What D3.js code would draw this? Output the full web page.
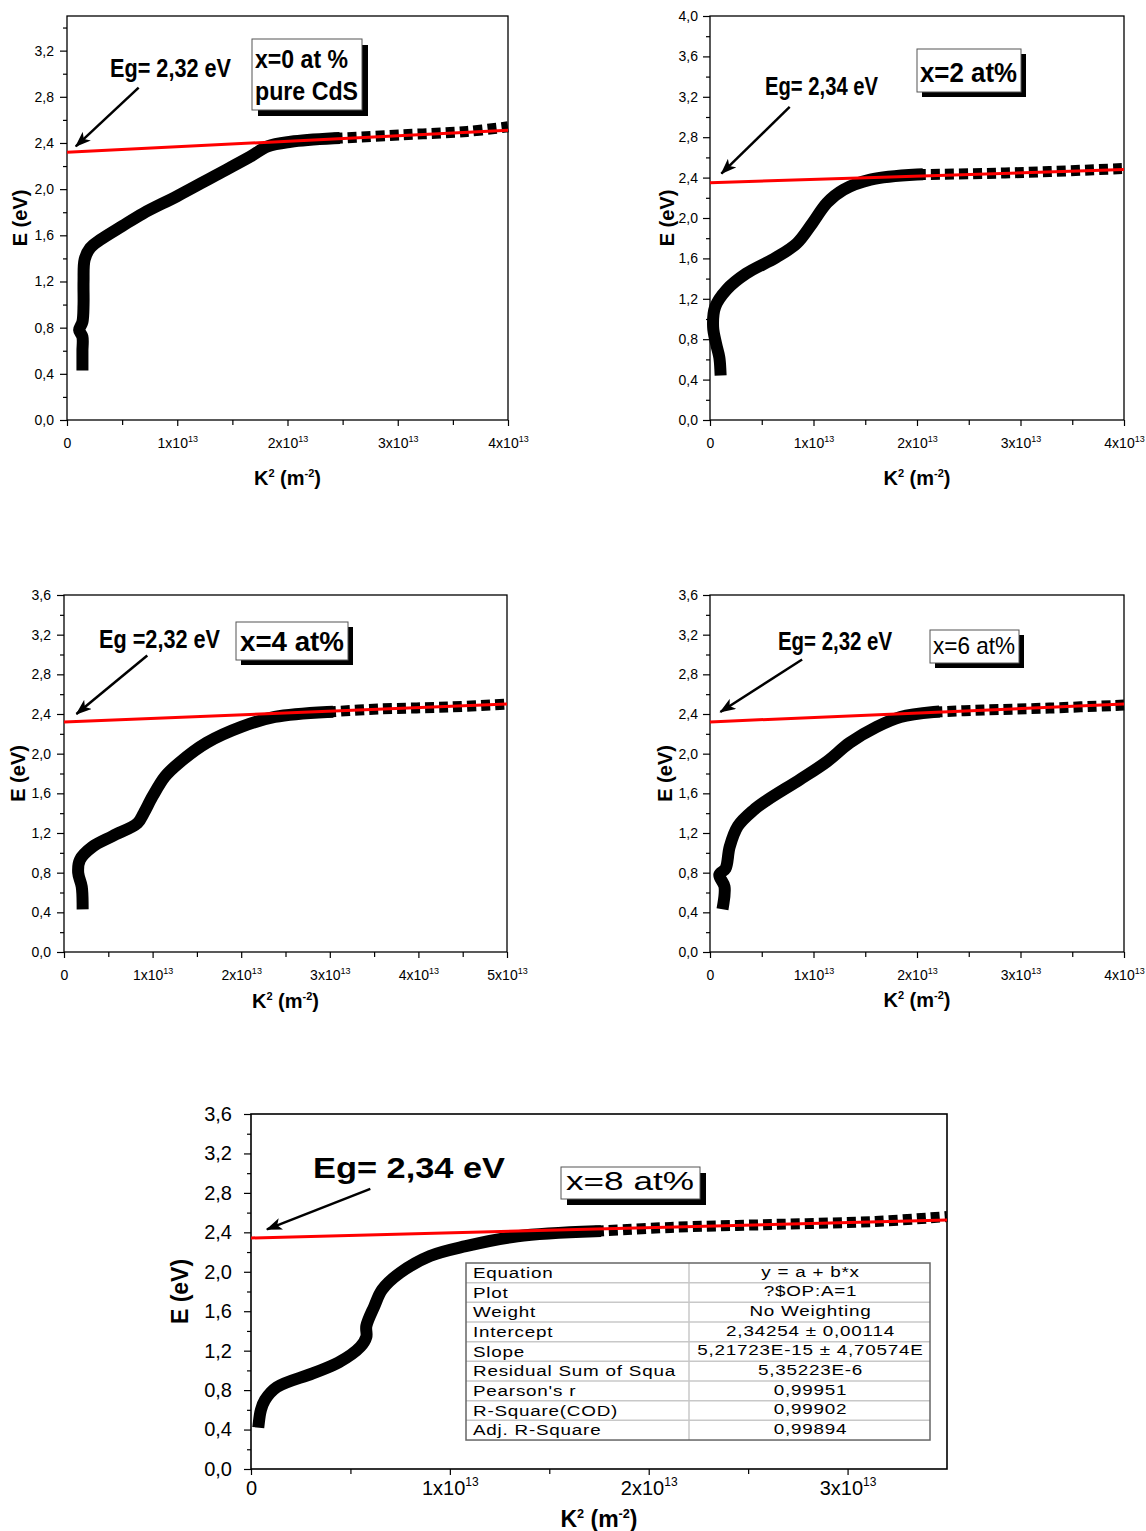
<!DOCTYPE html>
<html>
<head>
<meta charset="utf-8">
<script src="https://cdn.jsdelivr.net/npm/d3@7"></script>
<style>
  body { margin: 0; background: #fff; }
  svg { display: block; }
  text { font-family: "Liberation Sans", Arial, sans-serif; fill: #000; }
</style>
</head>
<body>
<svg id="chart" width="1146" height="1531"></svg>
<script>
// K² in units of 1e13 m^-2, E in eV
const k2_x0 = [0.14, 0.14, 0.14, 0.11, 0.14, 0.15, 0.15, 0.16, 0.21, 0.30, 0.50, 0.69, 1.00, 1.33, 1.66, 1.82, 2.03, 2.42, 3.03, 3.63, 4.00]
const e_x0  = [0.48, 0.60, 0.72, 0.78, 0.85, 1.00, 1.20, 1.39, 1.49, 1.56, 1.68, 1.79, 1.94, 2.11, 2.28, 2.37, 2.41, 2.44, 2.47, 2.50, 2.54]

const k2_x2 = [0.10, 0.09, 0.06, 0.03, 0.05, 0.16, 0.35, 0.64, 0.84, 0.99, 1.13, 1.29, 1.55, 2.00, 2.64, 3.28, 4.00]
const e_x2  = [0.50, 0.62, 0.75, 0.92, 1.12, 1.29, 1.45, 1.61, 1.75, 1.95, 2.15, 2.28, 2.38, 2.43, 2.44, 2.46, 2.49]

const k2_x4 = [0.21, 0.20, 0.16, 0.18, 0.32, 0.55, 0.83, 0.90, 1.00, 1.14, 1.29, 1.61, 2.00, 2.38, 2.97, 3.55, 4.33, 5.00]
const e_x4  = [0.49, 0.66, 0.80, 0.93, 1.06, 1.17, 1.30, 1.40, 1.57, 1.77, 1.90, 2.11, 2.27, 2.37, 2.42, 2.45, 2.47, 2.50]

const k2_x6 = [0.13, 0.14, 0.09, 0.15, 0.19, 0.27, 0.42, 0.55, 0.87, 1.13, 1.35, 1.61, 1.84, 2.16, 2.64, 3.28, 4.00]
const e_x6  = [0.49, 0.66, 0.78, 0.84, 1.06, 1.27, 1.43, 1.53, 1.74, 1.92, 2.11, 2.27, 2.37, 2.42, 2.44, 2.46, 2.49]

const k2_x8 = [0.04, 0.05, 0.07, 0.13, 0.31, 0.44, 0.55, 0.58, 0.58, 0.62, 0.66, 0.75, 0.90, 1.08, 1.34, 1.73, 2.11, 2.63, 3.14, 3.50]
const e_x8  = [0.48, 0.60, 0.70, 0.83, 0.97, 1.08, 1.24, 1.34, 1.45, 1.65, 1.82, 1.99, 2.16, 2.26, 2.36, 2.41, 2.45, 2.48, 2.51, 2.56]

const k2Series = [k2_x0, k2_x2, k2_x4, k2_x6, k2_x8]
const eSeries  = [e_x0, e_x2, e_x4, e_x6, e_x8]
// K² where the plotted markers start to separate
const tailStart = [2.42, 2.00, 2.97, 2.16, 1.73]

// linear fits: E = a + b*K² (b per 1e13 m^-2)
const fitIntercept = [2.32, 2.35, 2.32, 2.32, 2.34254]
const fitSlope     = [0.0475, 0.0325, 0.036, 0.045, 0.0521723]

const xMaxes = [4, 4, 5, 4, 3.5]
const yMaxes = [3.5, 4.0, 3.6, 3.6, 3.6]

const egLabels = ["Eg= 2,32 eV", "Eg= 2,34 eV", "Eg =2,32 eV", "Eg= 2,32 eV", "Eg= 2,34 eV"]
const sampleLabels = [["x=0 at %", "pure CdS"], ["x=2 at%"], ["x=4 at%"], ["x=6 at%"], ["x=8 at%"]]

const tableLabels = ["Equation", "Plot", "Weight", "Intercept", "Slope", "Residual Sum of Squa", "Pearson's r", "R-Square(COD)", "Adj. R-Square"]
const tableValues = ["y = a + b*x", "?$OP:A=1", "No Weighting", "2,34254 ± 0,00114", "5,21723E-15 ± 4,70574E", "5,35223E-6", "0,99951", "0,99902", "0,99894"]

// arrows (data coords): start -> tip
const arrowStart = [[0.65, 2.88], [0.77, 3.10], [0.94, 2.99], [0.89, 2.95], [0.60, 2.84]]
const arrowTip   = [[0.08, 2.37], [0.11, 2.44], [0.14, 2.40], [0.10, 2.42], [0.08, 2.43]]

// page layout of each panel
const layout = [
  { left: 67, right: 508, top: 16, bottom: 420, tick: 14, sup: 9, padX: 12, padY: 6, title: 20, curve: 12,
    yTitleX: 20, xTitleY: 485,
    eg: { x: 110, y: 77, w: 121, size: 25 },
    box: { x: 252, y: 39, w: 110, h: 71, sh: 6, bold: true, size: 25, tx: 255, lines: [[68, 93], [100, 103]] } },
  { left: 710, right: 1124, top: 16, bottom: 420, tick: 14, sup: 9, padX: 12, padY: 5, title: 20, curve: 12,
    yTitleX: 667, xTitleY: 485,
    eg: { x: 765, y: 95, w: 113, size: 25 },
    box: { x: 917, y: 49, w: 104, h: 43, sh: 5, bold: true, size: 27, tx: 920, lines: [[82, 97]] } },
  { left: 64, right: 507, top: 595, bottom: 952, tick: 14, sup: 9, padX: 12, padY: 6, title: 20, curve: 12,
    yTitleX: 18, xTitleY: 1008,
    eg: { x: 99, y: 648, w: 121, size: 25 },
    box: { x: 236, y: 622, w: 112, h: 38, sh: 5, bold: true, size: 27, tx: 240, lines: [[651, 104]] } },
  { left: 710, right: 1124, top: 595, bottom: 952, tick: 14, sup: 9, padX: 12, padY: 5, title: 20, curve: 12,
    yTitleX: 665, xTitleY: 1007,
    eg: { x: 778, y: 650, w: 114, size: 25 },
    box: { x: 930, y: 630, w: 89, h: 33, sh: 5, bold: false, size: 24, tx: 933, lines: [[654, 82]] } },
  { left: 251, right: 947, top: 1114, bottom: 1469, tick: 20, sup: 12, padX: 6, padY: 12, title: 23, curve: 12,
    yTitleX: 180, xTitleY: 1527,
    eg: { x: 313, y: 1178, w: 192, size: 30 },
    box: { x: 561, y: 1167, w: 139, h: 32, sh: 6, bold: false, size: 26, tx: 566, lines: [[1190, 128]] } }
]

const svg = d3.select("#chart")

svg.append("defs").append("marker")
    .attr("id", "arrowhead")
    .attr("markerUnits", "userSpaceOnUse")
    .attr("markerWidth", 16)
    .attr("markerHeight", 12)
    .attr("refX", 15)
    .attr("refY", 6)
    .attr("orient", "auto")
  .append("path")
    .attr("d", "M0,0 L16,6 L0,12 L4,6 z")
    .attr("fill", "#000")

const fmtY = d => d.toFixed(1).replace(".", ",")

function drawPanel(i) {
  const L = layout[i]
  const xMax = xMaxes[i]
  const yMax = yMaxes[i]

  const xScale = d3.scaleLinear().domain([0, xMax]).range([L.left, L.right])
  const yScale = d3.scaleLinear().domain([0, yMax]).range([L.bottom, L.top])

  const g = svg.append("g")

  // axes: minor ticks first, then labelled majors
  const xMinor = g.append("g")
    .attr("transform", `translate(0,${L.bottom})`)
    .call(d3.axisBottom(xScale).tickValues(d3.range(0.5, xMax, 1)).tickSize(5).tickFormat(""))
  const yMinor = g.append("g")
    .attr("transform", `translate(${L.left},0)`)
    .call(d3.axisLeft(yScale).tickValues(d3.range(0.2, yMax + 1e-9, 0.4)).tickSize(4).tickFormat(""))

  const xAxis = g.append("g")
    .attr("transform", `translate(0,${L.bottom})`)
    .call(d3.axisBottom(xScale).tickValues(d3.range(0, xMax + 1e-9, 1)).tickSize(6).tickPadding(L.padX))
  const yAxis = g.append("g")
    .attr("transform", `translate(${L.left},0)`)
    .call(d3.axisLeft(yScale).tickValues(d3.range(0, yMax + 1e-9, 0.4)).tickSize(7).tickPadding(L.padY).tickFormat(fmtY))

  ;[xMinor, yMinor, xAxis, yAxis].forEach(a => {
    a.select(".domain").remove()
    a.selectAll(".tick line").attr("stroke", "#000").attr("stroke-width", 1.2)
    a.selectAll("text")
      .style("font-family", '"Liberation Sans", Arial, sans-serif')
      .style("font-size", L.tick + "px")
      .attr("fill", "#000")
  })

  xAxis.selectAll(".tick text").each(function(d) {
    const t = d3.select(this)
    t.text(null)
    if (d === 0) { t.text("0"); return }
    t.append("tspan").text(d + "x10")
    t.append("tspan").attr("dy", -L.tick * 0.45).style("font-size", L.sup + "px").text("13")
  })

  // frame
  g.append("rect")
    .attr("x", L.left).attr("y", L.top)
    .attr("width", L.right - L.left).attr("height", L.bottom - L.top)
    .attr("fill", "none").attr("stroke", "#000").attr("stroke-width", i === 4 ? 1.6 : 1.3)

  // data curve
  const pts = k2Series[i].map((k, j) => [k, eSeries[i][j]])
  const line = d3.line()
    .x(d => xScale(d[0]))
    .y(d => yScale(d[1]))
    .curve(d3.curveCatmullRom.alpha(0.5))

  g.append("path")
    .datum(pts.filter(d => d[0] <= tailStart[i] || d[1] < 2.3))
    .attr("d", line)
    .attr("fill", "none")
    .attr("stroke", "#000")
    .attr("stroke-width", L.curve)
    .attr("stroke-linejoin", "round")
    .attr("stroke-linecap", "square")

  g.append("path")
    .datum(pts.filter(d => d[0] >= tailStart[i] && d[1] >= 2.3))
    .attr("d", line)
    .attr("fill", "none")
    .attr("stroke", "#000")
    .attr("stroke-width", L.curve - 1)
    .attr("stroke-dasharray", "9,5")

  // linear fit
  const fit = [0, xMax].map(k => [k, fitIntercept[i] + fitSlope[i] * k])
  g.append("path")
    .datum(fit)
    .attr("d", d3.line().x(d => xScale(d[0])).y(d => yScale(d[1])))
    .attr("stroke", "#ff0000")
    .attr("stroke-width", 3)
    .attr("fill", "none")

  // arrow + Eg label
  g.append("line")
    .attr("x1", xScale(arrowStart[i][0])).attr("y1", yScale(arrowStart[i][1]))
    .attr("x2", xScale(arrowTip[i][0])).attr("y2", yScale(arrowTip[i][1]))
    .attr("stroke", "#000").attr("stroke-width", 2.5)
    .attr("marker-end", "url(#arrowhead)")

  g.append("text")
    .attr("x", L.eg.x).attr("y", L.eg.y)
    .style("font-size", L.eg.size + "px")
    .style("font-weight", "bold")
    .attr("textLength", L.eg.w)
    .attr("lengthAdjust", "spacingAndGlyphs")
    .text(egLabels[i])

  // sample label box with shadow
  const B = L.box
  g.append("rect")
    .attr("x", B.x + B.sh).attr("y", B.y + B.sh)
    .attr("width", B.w).attr("height", B.h)
    .attr("fill", "#000")
  g.append("rect")
    .attr("x", B.x).attr("y", B.y)
    .attr("width", B.w).attr("height", B.h)
    .attr("fill", "#fff").attr("stroke", "#555").attr("stroke-width", 1)
  sampleLabels[i].forEach((s, j) => {
    g.append("text")
      .attr("x", B.tx).attr("y", B.lines[j][0])
      .style("font-size", B.size + "px")
      .style("font-weight", B.bold ? "bold" : "normal")
      .attr("textLength", B.lines[j][1])
      .attr("lengthAdjust", "spacingAndGlyphs")
      .text(s)
  })

  // axis titles
  g.append("text")
    .attr("transform", `translate(${L.yTitleX},${(L.top + L.bottom) / 2}) rotate(-90)`)
    .attr("text-anchor", "middle")
    .attr("dominant-baseline", "central")
    .style("font-size", L.title + "px")
    .style("font-weight", "bold")
    .text("E (eV)")

  const xt = g.append("text")
    .attr("x", (L.left + L.right) / 2).attr("y", L.xTitleY)
    .attr("text-anchor", "middle")
    .style("font-size", L.title + "px")
    .style("font-weight", "bold")
  xt.append("tspan").text("K")
  xt.append("tspan").attr("dy", -L.title * 0.4).style("font-size", (L.title * 0.55) + "px").text("2")
  xt.append("tspan").attr("dy", L.title * 0.4).text(" (m")
  xt.append("tspan").attr("dy", -L.title * 0.4).style("font-size", (L.title * 0.55) + "px").text("-2")
  xt.append("tspan").attr("dy", L.title * 0.4).text(")")
}

d3.range(5).forEach(drawPanel)

// fit results table in the last panel (text is horizontally stretched like the source)
const tbl = { x: 466, y: 1263, w: 464, rowH: 19.67, split: 689, stretch: 1.3 }
const tg = svg.append("g")
tableLabels.forEach((lab, r) => {
  const ty = tbl.y + r * tbl.rowH
  if (r > 0) {
    tg.append("line")
      .attr("x1", tbl.x).attr("x2", tbl.x + tbl.w)
      .attr("y1", ty).attr("y2", ty)
      .attr("stroke", "#c8c8c8").attr("stroke-width", 1.5)
  }
  tg.append("text")
    .attr("transform", `translate(${tbl.x + 7},${ty + 15}) scale(${tbl.stretch},1)`)
    .style("font-size", "14.5px")
    .style("letter-spacing", "0.6px")
    .text(lab)
  tg.append("text")
    .attr("transform", `translate(${(tbl.split + tbl.x + tbl.w) / 2 + 1},${ty + 13.5}) scale(${tbl.stretch},1)`)
    .attr("text-anchor", "middle")
    .style("font-size", "14.5px")
    .style("letter-spacing", "0.6px")
    .text(tableValues[r])
})
tg.append("line")
  .attr("x1", tbl.split).attr("x2", tbl.split)
  .attr("y1", tbl.y).attr("y2", tbl.y + 9 * tbl.rowH)
  .attr("stroke", "#c8c8c8").attr("stroke-width", 1.5)
tg.append("rect")
  .attr("x", tbl.x).attr("y", tbl.y)
  .attr("width", tbl.w).attr("height", 9 * tbl.rowH)
  .attr("fill", "none").attr("stroke", "#666").attr("stroke-width", 1.5)
</script>
</body>
</html>
